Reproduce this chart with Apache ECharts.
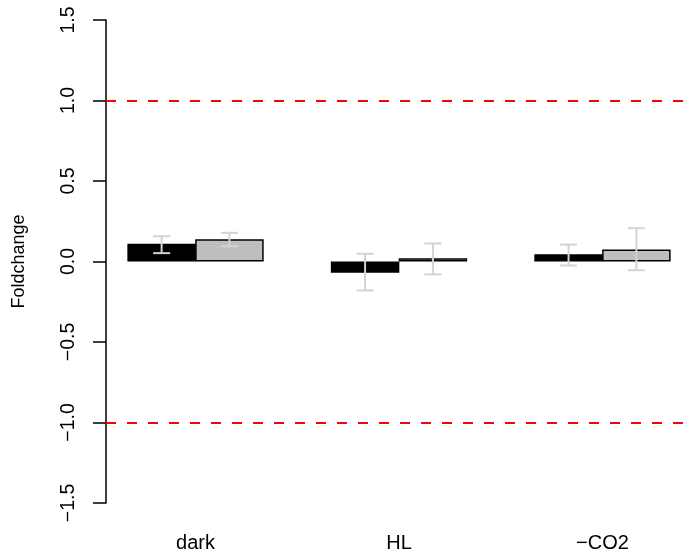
<!DOCTYPE html>
<html><head><meta charset="utf-8">
<script src="https://cdn.jsdelivr.net/npm/echarts@6/dist/echarts.min.js"></script>
<style>html,body{margin:0;padding:0;background:#fff}#c{width:692px;height:559px}</style>
</head><body><div id="c"></div>
<script>
var categories = ['dark', 'HL', '\u2212CO2'];
var seriesA = [0.11, -0.07, 0.045];      // black bars
var seriesB = [0.138, 0.02, 0.075];      // grey bars
var errA_low = [0.052, -0.18, -0.025];
var errA_high = [0.157, 0.048, 0.105];
var errB_low = [0.095, -0.08, -0.054];
var errB_high = [0.178, 0.112, 0.207];
var refLines = [1, -1];
var yTicks = [-1.5, -1.0, -0.5, 0.0, 0.5, 1.0, 1.5];

// R barplot(beside=TRUE) layout: group i occupies [3i+1, 3i+3]
function posA(i){ return 3*i + 1.5; }
function posB(i){ return 3*i + 2.5; }
function catPos(i){ return 3*i + 2; }

var chart = echarts.init(document.getElementById('c'), null, {renderer:'canvas'});
var font = '"Liberation Sans", Arial, Helvetica, sans-serif';

function errData(low, high, pos){
  return low.map(function(l, i){ return [pos(i), l, high[i]]; });
}
function errRender(params, api){
  var x = api.value(0);
  var p1 = api.coord([x, api.value(1)]);
  var p2 = api.coord([x, api.value(2)]);
  var hw = 8.5;
  var st = {stroke:'#d3d3d3', lineWidth:2, fill:null};
  return {type:'group', children:[
    {type:'line', shape:{x1:p1[0], y1:p1[1], x2:p2[0], y2:p2[1]}, style:st},
    {type:'line', shape:{x1:p1[0]-hw, y1:p1[1], x2:p1[0]+hw, y2:p1[1]}, style:st},
    {type:'line', shape:{x1:p2[0]-hw, y1:p2[1], x2:p2[0]+hw, y2:p2[1]}, style:st}
  ]};
}

chart.setOption({
  animation:false,
  backgroundColor:'#fff',
  grid:{left:106, right:-1, top:20, bottom:56, containLabel:false},
  xAxis:{
    type:'value', min:0.68, max:9.32,
    axisLine:{show:false}, axisTick:{show:false}, splitLine:{show:false},
    axisLabel:{
      customValues: categories.map(function(c,i){ return catPos(i); }),
      formatter:function(v){ return categories[Math.round((v-2)/3)]; },
      color:'#000', fontSize:20, fontFamily:font, margin:30
    }
  },
  yAxis:{
    type:'value', min:-1.5, max:1.5, interval:0.5,
    name:'Foldchange', nameLocation:'middle', nameGap:78, nameRotate:90,
    nameTextStyle:{color:'#000', fontSize:18, fontFamily:font},
    axisLine:{show:true, lineStyle:{color:'#000', width:1.5}},
    axisTick:{show:true, length:13, lineStyle:{color:'#000', width:1.5}},
    splitLine:{show:false},
    axisLabel:{
      rotate:90, margin:27, color:'#000', fontSize:19.5, fontFamily:font,
      formatter:function(v){ return v.toFixed(1).replace('-', '\u2212'); }
    }
  },
  series:[
    {type:'bar', data:seriesA.map(function(v,i){ return [posA(i), v]; }),
     barWidth:68.5, barGap:'-100%',
     itemStyle:{color:'#000', borderColor:'#000', borderWidth:1.5},
     markLine:{silent:true, symbol:'none', label:{show:false},
       lineStyle:{color:'#ff0000', width:2, type:[10,11]},
       data:refLines.map(function(v){ return {yAxis:v}; })}
    },
    {type:'bar', data:seriesB.map(function(v,i){ return [posB(i), v]; }),
     barWidth:68.5, barGap:'-100%',
     itemStyle:{color:'#bebebe', borderColor:'#000', borderWidth:1.5}},
    {type:'custom', renderItem:errRender, data:errData(errA_low, errA_high, posA), z:5},
    {type:'custom', renderItem:errRender, data:errData(errB_low, errB_high, posB), z:5}
  ]
});
</script></body></html>
